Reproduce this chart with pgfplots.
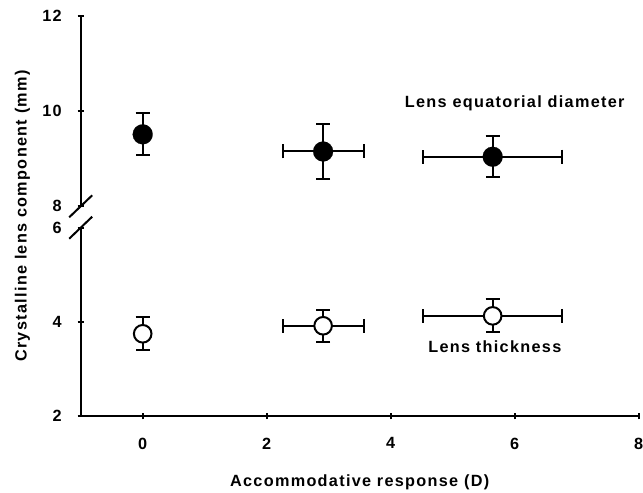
\documentclass[border=0pt]{standalone}
\usepackage{pgfplots}
\pgfplotsset{compat=1.18}
\usepackage{fontspec}
\setmainfont{Liberation Sans}[LetterSpace=8]
\newcommand{\lab}{\fontsize{16.3}{19}\selectfont\bfseries}
\begin{document}
\begin{tikzpicture}
\pgfplotsset{
  common/.style={
    scale only axis, width=558bp, xmin=-1, xmax=8,
    anchor=south west,
    tick align=outside, major tick length=6bp,
    every tick/.style={black, line width=2bp},
    tick label style={font=\lab},
    yticklabel style={xshift=-12.5bp},
    xticklabel style={yshift=-15bp},
    /pgf/number format/assume math mode=true,
    clip=false,
  },
  nolinearrows/.style={
    axis line style={line width=2bp, -},
    every outer x axis line/.append style={-},
    every outer y axis line/.append style={-},
    every inner x axis line/.append style={-},
    every inner y axis line/.append style={-},
  },
  errs/.style={
    error bars/.cd, x dir=both, x explicit, y dir=both, y explicit,
    error bar style={line width=2bp, black},
    error mark=-,
    error mark options={rotate=90, line width=2bp, mark size=7bp, black},
  }
}
% lower part of the broken axis
\begin{axis}[common, name=low, at={(0bp,0bp)}, height=188.6bp,
  ymin=2, ymax=6, ytick={2,4,6}, xtick={0,2,4,6,8},
  axis lines=left, nolinearrows,
  xlabel={Accommodative response (D)},
  ylabel={Crystalline lens component (mm)},
  label style={font=\lab},
  xlabel style={at={(axis description cs:0.5,0)}, anchor=center, yshift=-66bp},
  ylabel style={at={(axis description cs:-0.1043,1.062)}, anchor=center}]
\addplot[only marks, black, mark=*, mark size=8.8bp,
  mark options={fill=white, draw=black, line width=2bp}, errs]
  coordinates {(0,3.75) +- (0,0.35) (2.91,3.92) +- (0.655,0.34) (5.645,4.13) +- (1.12,0.35)};
\node[anchor=base, font=\lab] at (axis cs:5.68,3.349) {Lens thickness};
\draw[line width=2bp] (rel axis cs:0,1) ++(-11.5bp,-11bp) -- ++(23bp,22bp);
\end{axis}
% upper part
\begin{axis}[common, name=up, at={(0bp,210bp)}, height=190.6bp,
  ymin=8, ymax=12, ytick={8,10,12}, xtick=\empty,
  axis x line=none, axis y line=left, nolinearrows]
\addplot[only marks, black, mark=*, mark size=10bp,
  mark options={fill=black, draw=black, line width=0.1bp}, errs]
  coordinates {(0,9.51) +- (0,0.44) (2.91,9.15) +- (0.655,0.57) (5.645,9.04) +- (1.12,0.43)};
\node[anchor=base, font=\lab] at (axis cs:6.0,10.07) {Lens equatorial diameter};
\draw[line width=2bp] (rel axis cs:0,0) ++(-11.5bp,-11bp) -- ++(23bp,22bp);
\end{axis}
\pgfresetboundingbox
\path (-80.7bp,-76.7bp) rectangle ++(643bp,493bp);
\end{tikzpicture}
\end{document}
